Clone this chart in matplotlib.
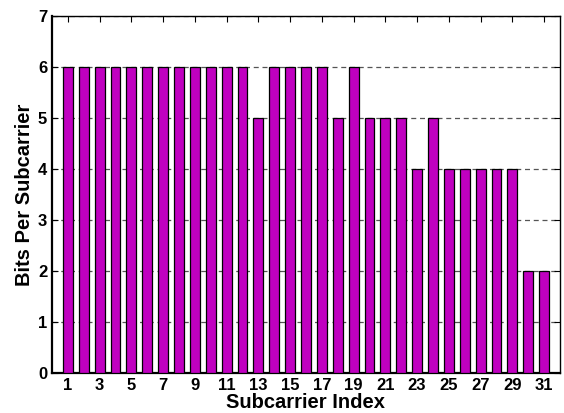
import numpy as np
import matplotlib
matplotlib.use("Agg")
import matplotlib.pyplot as plt

plt.rcParams["font.family"] = ["Liberation Sans", "DejaVu Sans"]
plt.rcParams["font.weight"] = "bold"

subcarrier = np.arange(1, 32)
bits = [6, 6, 6, 6, 6, 6, 6, 6, 6, 6, 6, 6, 5, 6, 6, 6, 6, 5, 6, 5,
        5, 5, 4, 5, 4, 4, 4, 4, 4, 2, 2]
xticks = list(range(1, 32, 2))
yticks = list(range(0, 8))

fig = plt.figure(figsize=(5.64, 4.13), dpi=100)
ax = fig.add_axes([52/564, 1 - 373/413, 508/564, 357/413])
ax.bar(subcarrier, bits, width=0.62, color="#C000C0", edgecolor="black", linewidth=0.9, zorder=3)
ax.set_xlim(0, 32)
ax.set_ylim(0, 7)
ax.set_xticks(xticks)
ax.set_yticks(yticks)
ax.yaxis.grid(True, linestyle=(0, (4, 3)), color="#555555", linewidth=0.9, zorder=0)
ax.tick_params(direction="in", top=True, right=True, length=4, labelsize=12, width=0.8)
for s in ax.spines.values():
    s.set_linewidth(1.0)
ax.spines["bottom"].set_linewidth(1.6)
ax.spines["left"].set_linewidth(1.6)
ax.set_xlabel("Subcarrier Index", fontsize=14.5, fontweight="bold", labelpad=0)
ax.set_ylabel("Bits Per Subcarrier", fontsize=14.5, fontweight="bold", labelpad=3)
for lab in ax.get_xticklabels() + ax.get_yticklabels():
    lab.set_fontweight("bold")
fig.savefig("out.png", dpi=100)
